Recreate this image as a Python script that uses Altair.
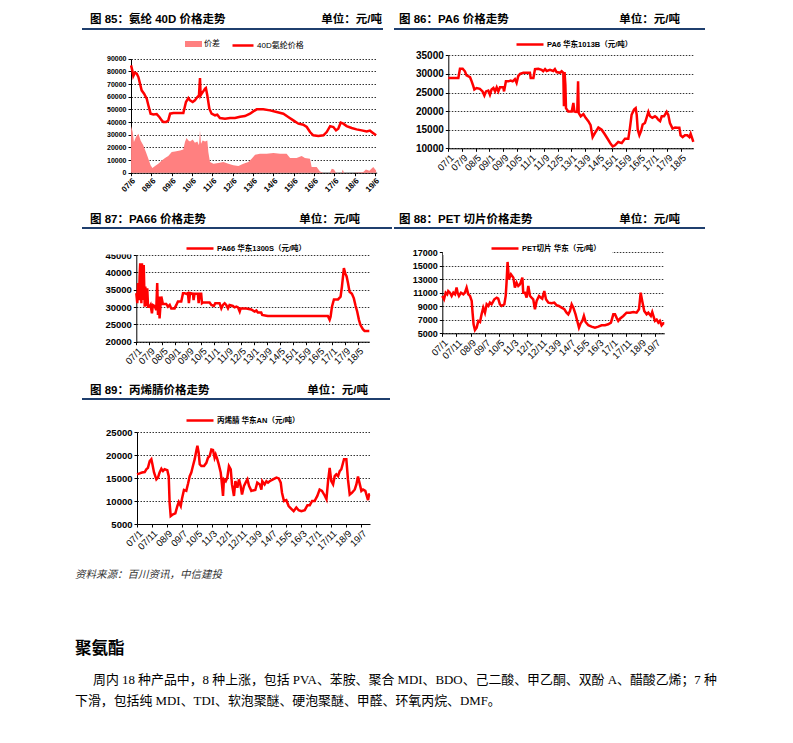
import altair as alt
import pandas as pd

# ------------------------------------------------------------------ data
# (decimal year, value) pairs
spandex_40d = [
    (2007.42, 84700), (2007.48, 80800), (2007.53, 76300), (2007.61, 79000), (2007.70, 78200),
    (2007.78, 75500), (2007.86, 70300), (2007.94, 65000), (2008.06, 62400), (2008.19, 58400),
    (2008.27, 53200), (2008.38, 46600), (2008.52, 46000), (2008.68, 46300), (2008.81, 44000),
    (2008.93, 41300), (2009.01, 40000), (2009.14, 40000), (2009.25, 41300), (2009.34, 46600),
    (2009.50, 47100), (2009.74, 47100), (2009.99, 47100), (2010.04, 50500), (2010.12, 55800),
    (2010.24, 58900), (2010.32, 57100), (2010.45, 55800), (2010.56, 57100), (2010.68, 59700),
    (2010.76, 61000), (2010.81, 74700), (2010.84, 61000), (2010.89, 62400), (2010.97, 64200),
    (2011.06, 66300), (2011.10, 66800), (2011.17, 61000), (2011.27, 50500), (2011.38, 46600),
    (2011.55, 45300), (2011.66, 45800), (2011.79, 43200), (2012.04, 42600), (2012.29, 43200),
    (2012.53, 43200), (2012.78, 44200), (2013.02, 44700), (2013.27, 46600), (2013.43, 48400),
    (2013.60, 50000), (2013.92, 50000), (2014.25, 49200), (2014.58, 47900), (2014.91, 46600),
    (2015.15, 44000), (2015.40, 41300), (2015.65, 38700), (2015.89, 37900), (2016.06, 36100),
    (2016.22, 32100), (2016.38, 29500), (2016.63, 28900), (2016.88, 29500), (2017.04, 32100),
    (2017.21, 36800), (2017.37, 36100), (2017.50, 33400), (2017.61, 34700), (2017.73, 39500),
    (2017.86, 38700), (2018.02, 36800), (2018.27, 35300), (2018.51, 34200), (2018.76, 33400),
    (2019.01, 32600), (2019.17, 33200), (2019.30, 31600), (2019.47, 29500),
]
spandex_spread = [
    (2007.42, 36800), (2007.50, 32100), (2007.56, 24200), (2007.66, 28200), (2007.78, 30800),
    (2007.89, 25500), (2008.02, 21600), (2008.15, 16300), (2008.27, 11100), (2008.38, 5800),
    (2008.47, 3700), (2008.60, 5300), (2008.76, 7100), (2008.93, 9700), (2009.09, 11600),
    (2009.25, 13200), (2009.42, 16300), (2009.58, 16800), (2009.83, 17600), (2009.99, 18400),
    (2010.07, 24200), (2010.15, 27400), (2010.24, 25500), (2010.32, 24700), (2010.45, 26300),
    (2010.56, 23700), (2010.68, 24700), (2010.76, 21600), (2010.81, 33400), (2010.86, 22900),
    (2010.94, 25500), (2011.06, 24700), (2011.17, 25500), (2011.22, 16300), (2011.30, 8400),
    (2011.47, 7100), (2011.71, 7600), (2011.96, 8400), (2012.20, 7100), (2012.45, 5800),
    (2012.70, 5300), (2012.94, 7100), (2013.19, 8400), (2013.35, 11100), (2013.52, 14200),
    (2013.76, 15000), (2014.09, 15000), (2014.42, 15500), (2014.75, 15000), (2015.07, 15000),
    (2015.24, 11600), (2015.56, 11600), (2015.81, 13200), (2015.97, 11600), (2016.22, 11100),
    (2016.30, 4500), (2016.55, 4500), (2016.71, 1000), (2016.88, 0), (2017.20, 0),
    (2017.29, 3200), (2017.40, 2600), (2017.50, 0), (2017.78, 0), (2017.83, 2600),
    (2017.89, 0), (2018.35, 0), (2018.84, 500), (2018.97, 2600), (2019.14, 1600),
    (2019.33, 4500), (2019.47, 1800),
]
pa6 = [
    (2007.00, 28900), (2007.16, 28900), (2007.49, 28900), (2007.57, 31400), (2007.70, 31400),
    (2007.81, 30700), (2007.89, 29600), (2008.06, 29100), (2008.14, 28000), (2008.22, 26700),
    (2008.27, 25800), (2008.38, 26200), (2008.54, 26000), (2008.67, 25300), (2008.76, 24200),
    (2008.84, 25300), (2008.95, 25500), (2009.03, 24400), (2009.11, 25800), (2009.20, 26200),
    (2009.28, 25300), (2009.36, 26400), (2009.44, 25300), (2009.52, 26400), (2009.68, 26400),
    (2009.72, 25300), (2009.81, 28000), (2009.93, 28000), (2010.04, 28200), (2010.14, 28000),
    (2010.25, 28600), (2010.33, 27600), (2010.41, 29400), (2010.50, 30000), (2010.66, 30300),
    (2010.85, 30300), (2010.98, 30300), (2011.02, 28900), (2011.15, 28900), (2011.23, 31300),
    (2011.39, 31400), (2011.55, 31100), (2011.63, 30700), (2011.72, 31300), (2011.80, 30800),
    (2011.96, 31100), (2012.12, 30800), (2012.20, 31300), (2012.28, 30500), (2012.45, 30300),
    (2012.53, 30700), (2012.61, 30300), (2012.64, 21300), (2012.67, 30500), (2012.71, 27100),
    (2012.74, 20800), (2012.85, 19900), (2013.02, 19900), (2013.10, 22200), (2013.15, 19900),
    (2013.23, 19800), (2013.29, 19900), (2013.33, 28000), (2013.36, 19500), (2013.46, 18600),
    (2013.59, 19200), (2013.70, 18200), (2013.83, 17300), (2013.94, 16200), (2014.04, 13000),
    (2014.15, 14100), (2014.32, 15600), (2014.48, 15000), (2014.64, 13700), (2014.80, 12300),
    (2014.92, 11200), (2015.02, 10500), (2015.13, 10800), (2015.29, 11700), (2015.46, 11400),
    (2015.62, 12600), (2015.78, 12600), (2015.86, 15500), (2015.94, 19000), (2016.06, 20400),
    (2016.14, 20800), (2016.19, 19000), (2016.24, 15000), (2016.32, 13500), (2016.40, 14600),
    (2016.48, 16400), (2016.59, 16800), (2016.67, 18200), (2016.76, 19800), (2016.84, 18600),
    (2016.95, 18200), (2017.08, 18600), (2017.16, 18300), (2017.24, 17700), (2017.33, 17300),
    (2017.41, 18600), (2017.52, 18600), (2017.65, 19800), (2017.73, 19000), (2017.81, 16800),
    (2017.94, 15300), (2018.06, 15600), (2018.17, 15500), (2018.27, 15500), (2018.33, 13500),
    (2018.43, 13000), (2018.54, 13500), (2018.66, 13500), (2018.76, 13000), (2018.82, 13900),
    (2018.90, 12600), (2018.95, 11700),
]
pa66 = [
    (2007.00, 34000), (2007.05, 31100), (2007.09, 36900), (2007.14, 32000), (2007.17, 38800),
    (2007.20, 42600), (2007.26, 31100), (2007.29, 42600), (2007.34, 32000), (2007.38, 42100),
    (2007.43, 30100), (2007.46, 35900), (2007.51, 30300), (2007.56, 35400), (2007.60, 30100),
    (2007.68, 30100), (2007.73, 30600), (2007.80, 28200), (2007.85, 30600), (2007.94, 30300),
    (2008.02, 29100), (2008.07, 36900), (2008.11, 27700), (2008.16, 33000), (2008.19, 26700),
    (2008.24, 30600), (2008.28, 33000), (2008.36, 30900), (2008.53, 30900), (2008.62, 30100),
    (2008.71, 30600), (2008.79, 29600), (2008.96, 29600), (2009.05, 30600), (2009.13, 31600),
    (2009.30, 31600), (2009.39, 34000), (2009.47, 34000), (2009.56, 33800), (2009.64, 34000),
    (2009.69, 31100), (2009.75, 34000), (2009.90, 33800), (2009.93, 32000), (2009.98, 33800),
    (2010.15, 33800), (2010.19, 31100), (2010.24, 33800), (2010.32, 33800), (2010.36, 31100),
    (2010.41, 31300), (2010.67, 31300), (2010.75, 31300), (2010.84, 30600), (2010.97, 30300),
    (2011.04, 31100), (2011.26, 31100), (2011.35, 29600), (2011.43, 30600), (2011.52, 31100),
    (2011.60, 30600), (2011.69, 29600), (2011.77, 30600), (2011.94, 30300), (2012.03, 29900),
    (2012.12, 30100), (2012.20, 29900), (2012.29, 28700), (2012.34, 29600), (2012.46, 29600),
    (2012.63, 29600), (2012.88, 29300), (2013.05, 28700), (2013.14, 29000), (2013.22, 28400),
    (2013.39, 28400), (2013.44, 27700), (2013.65, 27500), (2013.73, 27400), (2015.10, 27400),
    (2016.80, 27400), (2016.89, 26300), (2016.94, 27200), (2017.01, 30100), (2017.11, 32200),
    (2017.32, 32200), (2017.45, 33000), (2017.52, 35900), (2017.62, 41200), (2017.69, 39700),
    (2017.76, 38800), (2017.83, 36900), (2017.91, 34400), (2018.03, 33800), (2018.13, 32500),
    (2018.22, 30300), (2018.30, 28700), (2018.39, 26300), (2018.47, 24800), (2018.59, 23600),
    (2018.68, 23100), (2018.92, 23100),
]
pet_chip = [
    (2007.00, 10530), (2007.10, 10040), (2007.20, 11020), (2007.29, 10780), (2007.35, 11270),
    (2007.45, 11020), (2007.55, 10530), (2007.65, 11020), (2007.75, 10780), (2007.84, 11770),
    (2007.90, 11020), (2007.98, 10530), (2008.10, 11020), (2008.24, 10780), (2008.33, 11020),
    (2008.43, 11770), (2008.53, 10780), (2008.63, 10530), (2008.73, 9790), (2008.78, 8060),
    (2008.84, 6330), (2008.92, 5490), (2009.02, 5840), (2009.12, 6830), (2009.22, 6680),
    (2009.31, 7810), (2009.41, 8800), (2009.51, 8060), (2009.61, 9300), (2009.71, 9050),
    (2009.80, 9540), (2009.90, 9300), (2010.06, 10040), (2010.20, 10280), (2010.29, 10140),
    (2010.39, 9300), (2010.49, 9050), (2010.65, 9300), (2010.73, 10530), (2010.78, 12510),
    (2010.84, 15570), (2010.92, 13000), (2011.04, 13740), (2011.18, 13250), (2011.27, 11770),
    (2011.37, 12510), (2011.47, 12010), (2011.57, 12260), (2011.71, 13250), (2011.76, 11020),
    (2011.86, 11020), (2011.96, 10280), (2012.06, 12010), (2012.16, 10530), (2012.25, 10280),
    (2012.35, 10040), (2012.45, 8560), (2012.55, 9790), (2012.69, 10530), (2012.80, 10280),
    (2012.88, 10140), (2013.00, 11270), (2013.10, 10040), (2013.24, 9540), (2013.43, 9440),
    (2013.59, 9540), (2013.73, 9150), (2013.86, 9050), (2014.02, 8800), (2014.18, 8560),
    (2014.31, 8060), (2014.41, 7810), (2014.51, 8310), (2014.61, 9300), (2014.71, 8800),
    (2014.84, 7810), (2014.94, 6830), (2015.04, 5840), (2015.14, 6480), (2015.24, 6830),
    (2015.33, 7570), (2015.43, 6680), (2015.59, 6190), (2015.78, 5990), (2015.98, 5840),
    (2016.18, 5990), (2016.37, 6190), (2016.57, 6190), (2016.76, 6330), (2016.92, 6580),
    (2017.06, 7810), (2017.16, 7810), (2017.25, 7320), (2017.35, 6830), (2017.45, 7170),
    (2017.65, 7570), (2017.84, 8060), (2018.04, 8060), (2018.24, 8160), (2018.43, 8060),
    (2018.57, 8560), (2018.67, 11020), (2018.76, 9790), (2018.88, 8310), (2019.02, 7810),
    (2019.12, 8060), (2019.27, 7570), (2019.35, 8160), (2019.45, 7320), (2019.51, 6830),
    (2019.61, 7030), (2019.71, 6580), (2019.80, 6830), (2019.90, 6190), (2020.00, 6480),
    (2020.06, 6480),
]
acrylonitrile = [
    (2007.00, 15800), (2007.15, 16000), (2007.28, 16200), (2007.43, 16300), (2007.52, 16900),
    (2007.61, 17200), (2007.71, 18700), (2007.80, 19100), (2007.86, 18000), (2007.95, 16200),
    (2008.08, 14700), (2008.17, 15100), (2008.26, 16200), (2008.36, 17000), (2008.45, 16500),
    (2008.54, 16900), (2008.69, 16700), (2008.77, 15400), (2008.82, 9600), (2008.88, 6700),
    (2009.01, 7100), (2009.14, 7300), (2009.25, 8900), (2009.33, 9800), (2009.44, 8900),
    (2009.51, 10500), (2009.62, 12400), (2009.75, 12200), (2009.85, 13800), (2009.94, 15400),
    (2010.03, 16200), (2010.12, 17600), (2010.22, 19100), (2010.31, 20900), (2010.37, 22000),
    (2010.44, 20500), (2010.50, 18000), (2010.59, 17600), (2010.74, 17600), (2010.87, 18300),
    (2010.96, 19400), (2011.06, 19800), (2011.15, 21200), (2011.24, 21100), (2011.33, 19400),
    (2011.39, 20100), (2011.48, 19100), (2011.56, 18000), (2011.67, 16200), (2011.74, 13600),
    (2011.80, 11100), (2011.85, 14700), (2011.95, 14300), (2012.04, 15100), (2012.13, 17600),
    (2012.23, 16900), (2012.30, 13600), (2012.41, 11100), (2012.49, 14300), (2012.60, 12900),
    (2012.69, 14700), (2012.78, 13300), (2012.86, 11400), (2012.97, 13300), (2013.10, 14300),
    (2013.16, 14700), (2013.25, 13300), (2013.38, 12200), (2013.47, 12300), (2013.60, 12400),
    (2013.71, 14000), (2013.85, 13600), (2013.94, 12500), (2013.99, 14300), (2014.12, 13600),
    (2014.22, 14300), (2014.31, 14000), (2014.40, 14300), (2014.59, 14700), (2014.78, 15100),
    (2014.91, 14900), (2015.02, 14000), (2015.09, 11800), (2015.20, 10000), (2015.33, 10200),
    (2015.46, 8900), (2015.61, 8300), (2015.74, 7800), (2015.89, 8600), (2016.02, 8000),
    (2016.17, 7800), (2016.36, 8000), (2016.51, 9100), (2016.64, 9100), (2016.77, 10000),
    (2016.91, 10000), (2017.06, 11100), (2017.19, 12500), (2017.32, 12200), (2017.47, 11200),
    (2017.57, 10400), (2017.66, 14300), (2017.75, 17200), (2017.84, 14300), (2017.94, 13600),
    (2018.03, 15400), (2018.12, 15800), (2018.22, 15400), (2018.31, 16500), (2018.40, 16900),
    (2018.55, 19100), (2018.68, 19100), (2018.77, 14700), (2018.87, 11400), (2019.00, 11800),
    (2019.15, 12500), (2019.24, 13600), (2019.33, 15300), (2019.41, 14000), (2019.52, 12200),
    (2019.61, 12500), (2019.74, 12200), (2019.80, 11400), (2019.89, 10200), (2019.95, 11400),
    (2020.00, 11400),
]

# tick labels
labels_85 = ["07/6", "08/6", "09/6", "10/6", "11/6", "12/6", "13/6", "14/6", "15/6",
             "16/6", "17/6", "18/6", "19/6"]
labels_86 = ["07/1", "07/9", "08/5", "09/1", "09/9", "10/5", "11/1", "11/9", "12/5",
             "13/1", "13/9", "14/5", "15/1", "15/9", "16/5", "17/1", "17/9", "18/5"]
labels_88 = ["07/1", "07/11", "08/9", "09/7", "10/5", "11/3", "12/1", "12/11", "13/9",
             "14/7", "15/5", "16/3", "17/1", "17/11", "18/9", "19/7"]
yticks_85 = [0, 10000, 20000, 30000, 40000, 50000, 60000, 70000, 80000, 90000]
yticks_86 = [10000, 15000, 20000, 25000, 30000, 35000]
yticks_87 = [20000, 25000, 30000, 35000, 40000, 45000]
yticks_88 = [5000, 7000, 9000, 11000, 13000, 15000, 17000]
yticks_89 = [5000, 10000, 15000, 20000, 25000]

series_85 = ["价差", "40D氨纶价格"]
series_86 = "PA6 华东1013B（元/吨）"
series_87 = "PA66 华东1300S（元/吨）"
series_88 = "PET切片 华东（元/吨）"
series_89 = "丙烯腈 华东AN（元/吨）"

# ------------------------------------------------------------------ layout
W, H = 777, 727
OX, OY = 8, 8
RED = "#FF0000"
PINK = "#FF8080"
NAVY = "#1F3F6E"
NUM = "Liberation Sans"
CJK = "Liberation Sans, Noto Sans CJK SC"
SERIF = "Liberation Serif, Noto Sans CJK SC"

LABEL = ("(floor(datum.value + 0.001) % 100 < 10 ? '0' : '') + (floor(datum.value + 0.001) % 100)"
         " + '/' + (round((datum.value - floor(datum.value + 0.001)) * 12) + 1)")


def lab2val(s):
    yy, mm = s.split("/")
    return round(2000 + int(yy) + (int(mm) - 1) / 12, 4)


def frame(pairs, name):
    return pd.DataFrame({"t": [p[0] for p in pairs], "v": [p[1] for p in pairs], "s": name})


def x_enc(x0, x1, dom, labels, ybot, lsize, lweight):
    return alt.X(
        "t:Q", title=None,
        scale=alt.Scale(domain=dom, range=[x0 - OX, x1 - OX], nice=False, zero=False),
        axis=alt.Axis(orient="bottom", offset=(ybot - OY) - H, values=[lab2val(s) for s in labels],
                      labelExpr=LABEL, labelAngle=315, labelFontSize=lsize, labelFontWeight=lweight,
                      labelFont=NUM, labelColor="#000", grid=False, domainColor="#000",
                      domainWidth=1, tickColor="#000", tickSize=3, labelPadding=1,
                      labelOverlap=False, labelFlush=False),
    )


def y_enc(ybot, ytop, dom, ticks, xleft, lsize):
    return alt.Y(
        "v:Q", title=None,
        scale=alt.Scale(domain=dom, range=[ybot - OY, ytop - OY], nice=False, zero=False),
        axis=alt.Axis(orient="left", offset=-(xleft - OX), values=ticks, format="d",
                      grid=True, gridColor="#000", gridDash=[1.5, 1.5], gridWidth=0.8,
                      labelFontSize=lsize, labelFontWeight="bold", labelFont=NUM,
                      labelColor="#000", domainColor="#000", domainWidth=1, tickColor="#000",
                      tickSize=3, labelPadding=2, labelOverlap=False, labelFlush=False),
    )


LINE_SYM = 729  # legend stroke symbol: 27 px long


def line_legend(x, ycenter, size=7.5):
    return alt.Legend(orient="none", legendX=x - OX, legendY=ycenter - 13.5 - OY, title=None,
                      symbolType="stroke", symbolSize=LINE_SYM, symbolStrokeWidth=2.5,
                      labelFontSize=size, labelFontWeight="bold", labelFont=CJK,
                      labelOffset=2, padding=0)


def line_layer(df, X, Y, name, lx, ly):
    return alt.Chart(df).mark_line(strokeWidth=2.5).encode(
        x=X, y=Y,
        stroke=alt.Stroke("s:N", scale=alt.Scale(domain=[name], range=[RED]),
                          legend=line_legend(lx, ly)),
    )


base = pd.DataFrame({"k": [0]})


def txt(x, y, s, size, weight="normal", align="left", color="#000", font=CJK, style="normal"):
    return alt.Chart(base).mark_text(align=align, baseline="middle", fontSize=size,
                                     fontWeight=weight, font=font, color=color,
                                     fontStyle=style).encode(
        x=alt.value(x - OX), y=alt.value(y - OY), text=alt.value(s))


def hrule(x0, x1, y):
    return alt.Chart(base).mark_rule(color=NAVY, strokeWidth=2).encode(
        x=alt.value(x0 - OX), x2=alt.value(x1 - OX), y=alt.value(y - OY))


def mask(x0, x1, y0, y1):
    return alt.Chart(base).mark_rect(color="white").encode(
        x=alt.value(x0 - OX), x2=alt.value(x1 - OX), y=alt.value(y0 - OY), y2=alt.value(y1 - OY))


# ---- chart 85
X85 = x_enc(131, 376.7, [2007.4167, 2019.5], labels_85, 172.7, 8, "bold")
Y85 = y_enc(172.7, 58.7, [0, 90000], yticks_85, 131, 7)
area85 = alt.Chart(frame(spandex_spread, series_85[0])).mark_area(opacity=1).encode(
    x=X85, y=Y85,
    fill=alt.Fill("s:N", scale=alt.Scale(domain=[series_85[0]], range=[PINK]),
                  legend=alt.Legend(orient="none", legendX=185 - OX, legendY=44 - 8.5 - OY,
                                    title=None, symbolType="M-1,-0.35H1V0.35H-1Z",
                                    symbolSize=289, symbolStrokeWidth=0, labelFontSize=8,
                                    labelFont=CJK, labelOffset=2, padding=0)),
)
line85 = alt.Chart(frame(spandex_40d, series_85[1])).mark_line(strokeWidth=2.5).encode(
    x=X85, y=Y85,
    stroke=alt.Stroke("s:N", scale=alt.Scale(domain=[series_85[1]], range=[RED]),
                      legend=alt.Legend(orient="none", legendX=231 - OX, legendY=44 - 10.5 - OY,
                                        title=None, symbolType="stroke", symbolSize=441,
                                        symbolStrokeWidth=2.5, labelFontSize=8, labelFont=CJK,
                                        labelOffset=2, padding=0)),
)
c85 = alt.layer(area85, line85)

# ---- chart 86
X86 = x_enc(448.3, 693.3, [2007.0, 2018.95], labels_86, 148.3, 9.5, "normal")
Y86 = y_enc(148.3, 55.3, [10000, 35000], yticks_86, 448.3, 10)
c86 = line_layer(frame(pa6, series_86), X86, Y86, series_86, 515, 43)

# ---- chart 87
X87 = x_enc(136.3, 369.3, [2007.0, 2018.92], labels_86, 341.7, 9.5, "normal")
Y87 = y_enc(341.7, 255, [20000, 45000], yticks_87, 136.3, 9.5)
c87 = line_layer(frame(pa66, series_87), X87, Y87, series_87, 185, 247)

# ---- chart 88
X88 = x_enc(442.3, 664.3, [2007.0, 2020.06], labels_88, 333.3, 9.5, "normal")
Y88 = y_enc(333.3, 252.3, [5000, 17000], yticks_88, 442.3, 9)
c88 = line_layer(frame(pet_chip, series_88), X88, Y88, series_88, 490, 247)

# ---- chart 89
X89 = x_enc(137, 370, [2007.0, 2020.0], labels_88, 524, 9.5, "normal")
Y89 = y_enc(524, 432, [5000, 25000], yticks_89, 137, 9.5)
c89 = line_layer(frame(acrylonitrile, series_89), X89, Y89, series_89, 185, 419)

# ---- page text
texts = [
    txt(90, 20, "图 85：氨纶 40D 价格走势", 11.5, "bold"),
    txt(382, 20, "单位：元/吨", 11.5, "bold", "right"),
    txt(399, 20, "图 86：PA6 价格走势", 11.5, "bold"),
    txt(680, 20, "单位：元/吨", 11.5, "bold", "right"),
    txt(90, 220, "图 87：PA66 价格走势", 11.5, "bold"),
    txt(360, 220, "单位：元/吨", 11.5, "bold", "right"),
    txt(399, 220, "图 88：PET 切片价格走势", 11.5, "bold"),
    txt(680, 220, "单位：元/吨", 11.5, "bold", "right"),
    txt(90, 391, "图 89：丙烯腈价格走势", 11.5, "bold"),
    txt(368, 391, "单位：元/吨", 11.5, "bold", "right"),
    txt(75, 575, "资料来源：百川资讯，中信建投", 10.5, color="#333", style="italic"),
    txt(75, 649, "聚氨酯", 16.5, "bold"),
    txt(93, 680, "周内 18 种产品中，8 种上涨，包括 PVA、苯胺、聚合 MDI、BDO、己二酸、甲乙酮、双酚 A、醋酸乙烯；7 种",
        12.9, font=SERIF),
    txt(75, 701, "下滑，包括纯 MDI、TDI、软泡聚醚、硬泡聚醚、甲醛、环氧丙烷、DMF。", 12.9, font=SERIF),
]
rules = [hrule(82, 383, 29), hrule(394, 705, 29), hrule(82, 392, 228),
         hrule(394, 705, 228), hrule(82, 390, 399)]
masks = [mask(100, 354, 248, 254.5), mask(443, 612, 248, 255)]

chart = alt.layer(*masks, c85, c86, c87, c88, c89, *rules, *texts).resolve_scale(
    x="independent", y="independent", stroke="independent", fill="independent"
).resolve_axis(x="independent", y="independent").resolve_legend(
    stroke="independent", fill="independent"
).properties(
    width=W, height=H, autosize=alt.AutoSizeParams(type="none"), padding=0, background="white"
).configure_view(strokeWidth=0)

chart.save("out.html", embed_options={"renderer": "svg", "actions": False})
